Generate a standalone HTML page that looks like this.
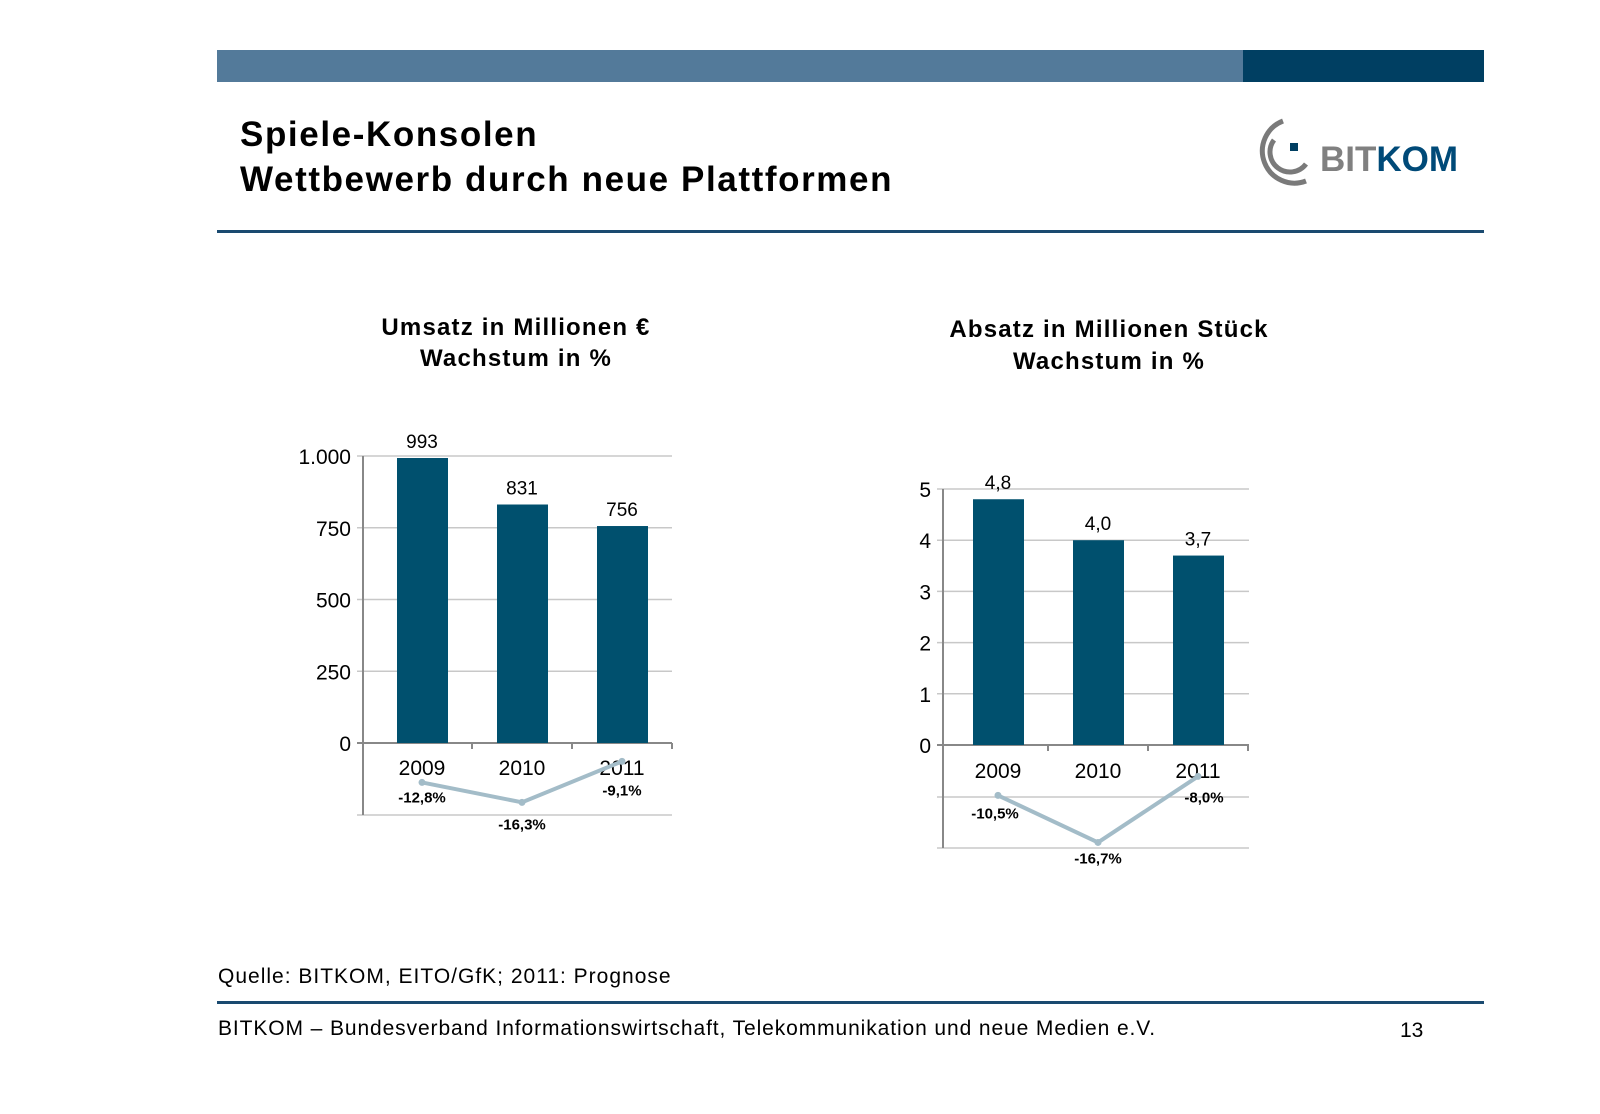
<!DOCTYPE html>
<html><head><meta charset="utf-8"><style>
html,body{margin:0;padding:0;background:#fff}
body{width:1600px;height:1109px;position:relative;overflow:hidden;font-family:"Liberation Sans",Arial,sans-serif}
</style></head><body>
<svg width="1600" height="1109" xmlns="http://www.w3.org/2000/svg" font-family="Liberation Sans, Arial, sans-serif">
<rect x="217" y="50" width="1026" height="32" fill="#537a9a"/>
<rect x="1243" y="50" width="241" height="32" fill="#003f62"/>
<text x="240" y="146" font-size="35" font-weight="bold" letter-spacing="1.6" fill="#000">Spiele-Konsolen</text>
<text x="240" y="191" font-size="35" font-weight="bold" letter-spacing="1.6" fill="#000">Wettbewerb durch neue Plattformen</text>
<g>
<path d="M1283,121 A30,30 0 1 0 1306,181" fill="none" stroke="#7a7a7a" stroke-width="5"/>
<path d="M1274,140 A17,17 0 0 0 1306,164" fill="none" stroke="#7a7a7a" stroke-width="5"/>
<rect x="1290" y="143" width="8" height="8" fill="#003f62"/>
<text x="1320" y="171" font-size="35" font-weight="bold" fill="#808080">BIT<tspan fill="#004a78">KOM</tspan></text>
</g>
<rect x="217" y="230" width="1267" height="3" fill="#1a4a70"/>
<text x="516" y="335" font-size="24" font-weight="bold" letter-spacing="1.2" text-anchor="middle">Umsatz in Millionen €</text>
<text x="516" y="366" font-size="24" font-weight="bold" letter-spacing="1.2" text-anchor="middle">Wachstum in %</text>
<text x="1109" y="337" font-size="24" font-weight="bold" letter-spacing="1.2" text-anchor="middle">Absatz in Millionen Stück</text>
<text x="1109" y="369" font-size="24" font-weight="bold" letter-spacing="1.2" text-anchor="middle">Wachstum in %</text>
<g id="c1"></g><g id="c2"></g>
<text x="218" y="983" font-size="21" letter-spacing="1">Quelle: BITKOM, EITO/GfK; 2011: Prognose</text>
<rect x="217" y="1001" width="1267" height="3" fill="#1a4a70"/>
<text x="218" y="1035" font-size="21" letter-spacing="0.9">BITKOM – Bundesverband Informationswirtschaft, Telekommunikation und neue Medien e.V.</text>
<text x="1400" y="1037" font-size="21">13</text>
</svg>
<script>
const categories = ["2009","2010","2011"];
const revenue = [993, 831, 756];
const revenueLabels = ["993","831","756"];
const revenueTicks = [0,250,500,750,1000];
const revenueTickLabels = ["0","250","500","750","1.000"];
const revenueGrowth = [-12.8, -16.3, -9.1];
const revenueGrowthLabels = ["-12,8%","-16,3%","-9,1%"];
const units = [4.8, 4.0, 3.7];
const unitLabels = ["4,8","4,0","3,7"];
const unitTicks = [0,1,2,3,4,5];
const unitTickLabels = ["0","1","2","3","4","5"];
const unitGrowth = [-10.5, -16.7, -8.0];
const unitGrowthLabels = ["-10,5%","-16,7%","-8,0%"];

const NS="http://www.w3.org/2000/svg";
function mk(p,t,a){const e=document.createElementNS(NS,t);for(const k in a)e.setAttribute(k,a[k]);p.appendChild(e);return e;}
function draw(g,o){
  const y=v=>o.y0-(v/o.max)*(o.y0-o.yTop);
  const gy=v=>o.gy0-o.gk*v;
  const bx=i=>o.x0+o.band*i+o.band/2;
  o.ticks.forEach((t,i)=>{
    const l=mk(g,'line',{x1:o.ax-6,x2:o.xr,y1:y(t),y2:y(t),stroke:t===0?'#888':'#c8c8c8','stroke-width':t===0?2:1.5});
    
    
    const tx=mk(g,'text',{x:o.ax-12,y:y(t)+8,'font-size':21,'text-anchor':'end',fill:'#000'});tx.textContent=o.tickLabels[i];
    
    
  });
  o.extraLines.forEach(yy=>{
    const l=mk(g,'line',{x1:o.ax-6,x2:o.xr,y1:yy,y2:yy,stroke:'#c8c8c8','stroke-width':1.5});
    
    
  });
  const ax=mk(g,'line',{x1:o.ax,x2:o.ax,y1:o.yTop,y2:o.yBot,stroke:'#888','stroke-width':2});
  
  
  for(let i=1;i<=3;i++){const t=mk(g,'line',{x1:o.x0+o.band*i,x2:o.x0+o.band*i,y1:o.y0,y2:o.y0+6,stroke:'#888','stroke-width':2});}
  const pts=[];
  o.vals.forEach((v,i)=>{
    const r=mk(g,'rect',{x:bx(i)-25,y:y(v),width:51,height:o.y0-y(v),fill:'#00506e'});
    
    
    const t=mk(g,'text',{x:bx(i),y:y(v)-10,'font-size':19,'text-anchor':'middle'});t.textContent=o.valLabels[i];
    
    
    const c=mk(g,'text',{x:bx(i),y:o.catY,'font-size':21,'text-anchor':'middle'});c.textContent=categories[i];
    
    
    pts.push([bx(i),gy(o.growth[i])]);
  });
  const pl=mk(g,'polyline',{points:pts.map(p=>p.join(',')).join(' '),fill:'none',stroke:'#a3bcc8','stroke-width':4});
  
  
  pts.forEach((p,i)=>{
    const m=mk(g,'circle',{cx:p[0],cy:p[1],r:3.5,fill:'#a3bcc8'});
    
    
    const off=o.glOff[i];
    const t=mk(g,'text',{x:p[0]+off[0],y:p[1]+off[1],'font-size':15,'text-anchor':'middle','font-weight':'bold'});t.textContent=o.gLabels[i];
    
    
  });
}
draw(document.getElementById('c1'),{vals:revenue,valLabels:revenueLabels,ticks:revenueTicks,tickLabels:revenueTickLabels,max:1000,
  y0:743,yTop:456,yBot:815,ax:363,xr:672,x0:372,band:100,catY:775,extraLines:[815],
  growth:revenueGrowth,gLabels:revenueGrowthLabels,gy0:709.6,gk:5.69,glOff:[[0,20],[0,27],[0,34]]});
draw(document.getElementById('c2'),{vals:units,valLabels:unitLabels,ticks:unitTicks,tickLabels:unitTickLabels,max:5,
  y0:745,yTop:489,yBot:848,ax:943,xr:1249,x0:948,band:100,catY:778,extraLines:[797,848],
  growth:unitGrowth,gLabels:unitGrowthLabels,gy0:715.7,gk:7.59,glOff:[[-3,23],[0,21],[6,26]]});
</script>
</body></html>
